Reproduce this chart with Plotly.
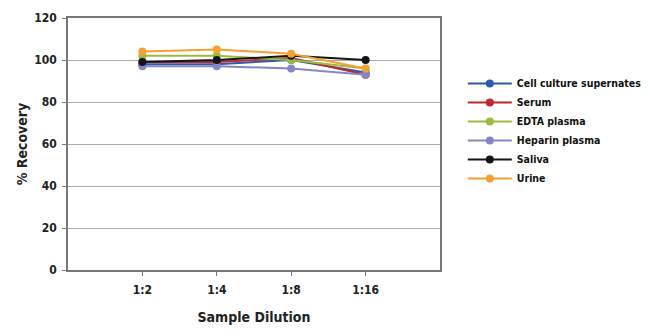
import plotly.graph_objects as go

categories = ["1:2", "1:4", "1:8", "1:16"]
series_names = ["Cell culture supernates", "Serum", "EDTA plasma", "Heparin plasma", "Saliva", "Urine"]
cell_culture = [98, 98, 100, 94]
serum = [99, 99, 101, 93]
edta_plasma = [102, 102, 100, 96]
heparin_plasma = [97, 97, 96, 93]
saliva = [99, 100, 102, 100]
urine = [104, 105, 103, 96]
colors = ["#2A5CA8", "#C0282D", "#9BBB3B", "#8585C9", "#151515", "#F5A031"]

values = [cell_culture, serum, edta_plasma, heparin_plasma, saliva, urine]
font = "DejaVu Sans Condensed"

fig = go.Figure()
for name, vals, col in zip(series_names, values, colors):
    fig.add_trace(go.Scatter(
        x=list(range(len(categories))), y=vals, name=name, mode="lines+markers",
        line=dict(color=col, width=2), marker=dict(color=col, size=8),
    ))

fig.update_layout(
    width=650, height=336,
    margin=dict(l=68, r=210, t=18, b=66),
    paper_bgcolor="white", plot_bgcolor="white",
    font=dict(family=font, size=12, color="#222"),
    legend=dict(xref="container", yref="container", x=0.712, y=0.795,
                xanchor="left", yanchor="top",
                font=dict(family=font, size=10.5, color="#111", weight="bold"),
                bgcolor="rgba(0,0,0,0)", tracegroupgap=0, itemwidth=44),
    xaxis=dict(
        range=[-1, 4], tickmode="array", tickvals=list(range(len(categories))),
        ticktext=categories, showgrid=False, showline=True, linecolor="#777",
        linewidth=1.5, mirror=True, ticks="outside", ticklen=4, tickcolor="#777",
        ticklabelstandoff=4,
        tickfont=dict(family=font, size=12, color="#222", weight="bold"),
        title=dict(text="Sample Dilution", standoff=16,
                   font=dict(family=font, size=14, color="#222", weight="bold")),
        zeroline=False,
    ),
    yaxis=dict(
        range=[0, 120], dtick=20, showgrid=True, gridcolor="#aaaaaa", gridwidth=1,
        showline=True, linecolor="#777", linewidth=1.5, mirror=True,
        ticks="outside", ticklen=4, tickcolor="#777", ticklabelstandoff=3,
        tickfont=dict(family=font, size=12, color="#222", weight="bold"),
        title=dict(text="% Recovery", standoff=3,
                   font=dict(family=font, size=14, color="#222", weight="bold")),
        zeroline=False,
    ),
)

fig.write_html("out.html")
